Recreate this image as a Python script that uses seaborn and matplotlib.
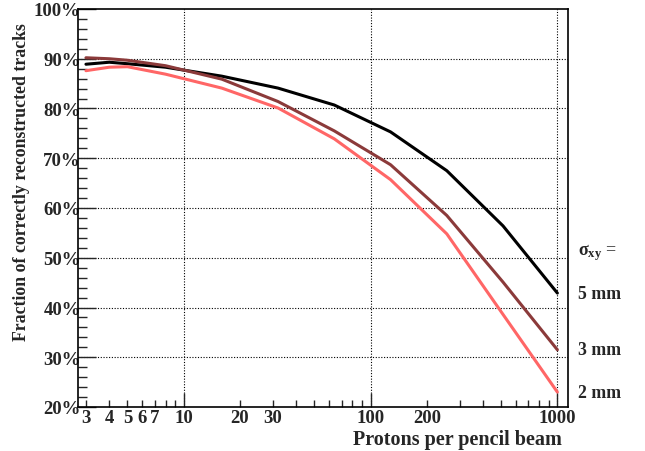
import matplotlib
matplotlib.use("Agg")
import matplotlib.pyplot as plt
import matplotlib.transforms as mtransforms
from matplotlib.ticker import FixedLocator, FixedFormatter, NullFormatter
import seaborn as sns
import pandas as pd
import numpy as np

# data
protons = [3, 4, 5, 8, 16, 32, 64, 128, 256, 512, 1000]
frac_5mm = [88.9, 89.3, 89.0, 88.3, 86.5, 84.1, 80.7, 75.3, 67.5, 56.4, 42.9]
frac_3mm = [90.2, 90.0, 89.7, 88.6, 85.9, 81.4, 75.5, 68.7, 58.5, 45.1, 31.5]
frac_2mm = [87.6, 88.3, 88.4, 86.9, 84.1, 80.1, 73.9, 65.7, 54.8, 38.6, 23.0]
sigmas = ["5 mm", "3 mm", "2 mm"]
colors = ["black", "#8b3a3a", "#ff6666"]

x_tick_vals = [3, 4, 5, 6, 7, 10, 20, 30, 100, 200, 1000]
x_tick_labels = ["3", "4", "5", "6", "7", "10", "20", "30", "100", "200", "1000"]
y_ticks = [20, 30, 40, 50, 60, 70, 80, 90, 100]

df = pd.DataFrame({
    "protons": protons * 3,
    "frac": frac_5mm + frac_3mm + frac_2mm,
    "sigma": [s for s in sigmas for _ in protons],
})

sns.set_theme(style="white")
plt.rcParams["font.family"] = ["Liberation Serif", "DejaVu Serif"]
plt.rcParams["font.weight"] = "bold"
plt.rcParams["mathtext.fontset"] = "custom"
plt.rcParams["mathtext.rm"] = "Liberation Serif"
plt.rcParams["mathtext.it"] = "Liberation Serif"

fig = plt.figure(figsize=(6.45, 4.52), dpi=100)
ax = fig.add_axes([78 / 645, 44 / 452, 490 / 645, 398 / 452])

sns.lineplot(data=df, x="protons", y="frac", hue="sigma", hue_order=sigmas,
             palette=colors, linewidth=2.2, legend=False, ax=ax)

ax.set_xscale("log")
ax.set_xlim(2.72, 1140)
ax.set_ylim(20, 100)

# grid at major ticks (dotted, ROOT style)
for gx in [10, 100, 1000]:
    ax.axvline(gx, color="black", ls=(0, (1, 1.5)), lw=0.8, zorder=0)
for gy in range(30, 100, 10):
    ax.axhline(gy, color="black", ls=(0, (1, 1.5)), lw=0.8, zorder=0)

# ticks
ax.xaxis.set_major_locator(FixedLocator([10, 100, 1000]))
ax.xaxis.set_major_formatter(NullFormatter())
minor_x = [m * 10 ** d for d in range(0, 3) for m in range(2, 10) if 2.72 < m * 10 ** d < 1140]
ax.xaxis.set_minor_locator(FixedLocator(minor_x))
ax.xaxis.set_minor_formatter(NullFormatter())
ax.yaxis.set_major_locator(FixedLocator(y_ticks))
ax.yaxis.set_major_formatter(FixedFormatter([f"{v}%" for v in y_ticks]))
ax.yaxis.set_minor_locator(FixedLocator(list(range(22, 100, 2))))

ax.tick_params(axis="x", which="major", direction="in", length=10, width=1, top=False, bottom=True)
ax.tick_params(axis="x", which="minor", direction="in", length=5, width=1, top=False, bottom=True)
ax.tick_params(axis="y", which="major", direction="in", length=13, width=1, left=True, right=False,
               labelsize=13.5, pad=-2)
ax.tick_params(axis="y", which="minor", direction="in", length=6.5, width=1, left=True, right=False)

# x tick labels placed as text so 6, 7 get labels but others not
trans_x = mtransforms.blended_transform_factory(ax.transData, ax.transAxes)
for v, lab in zip(x_tick_vals, x_tick_labels):
    ax.text(v, -0.006, lab, transform=trans_x, ha="center", va="top",
            fontsize=13.5, fontweight="bold")

for sp in ax.spines.values():
    sp.set_color("black")
    sp.set_linewidth(1.2)

ax.set_xlabel("")
ax.set_ylabel("")
fig.text(562 / 645, 1 - 440 / 452, "Protons per pencil beam", ha="right", va="center",
         fontsize=14.5, fontweight="bold")
fig.text(22 / 645, 1 - 182 / 452, "Fraction of correctly reconstructed tracks", rotation=90,
         ha="center", va="center", fontsize=12.8, fontweight="bold")

# right-hand labels
trans_r = mtransforms.blended_transform_factory(ax.transAxes, ax.transData)
ax.text(1.02, 51.3, r"$\sigma_{xy}$ =", transform=trans_r, ha="left", va="center",
        fontsize=13, fontweight="normal")
for lab, yv in zip(sigmas, [frac_5mm[-1], frac_3mm[-1], frac_2mm[-1]]):
    ax.text(1.02, yv, lab, transform=trans_r, ha="left", va="center",
            fontsize=12.8, fontweight="bold")

fig.savefig("out.png", dpi=100)
